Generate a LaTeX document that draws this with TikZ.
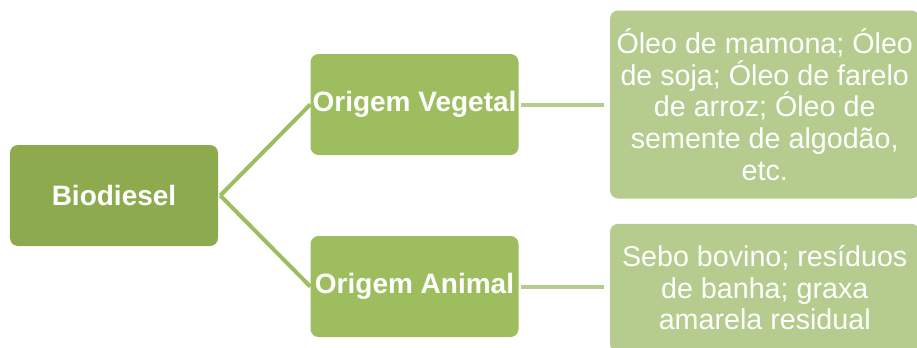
\documentclass[tikz,border=0pt]{standalone}
\usepackage{fontspec}
\setmainfont{Liberation Sans}
\usepackage{xcolor}
\usepackage{tikz}
\usetikzlibrary{positioning}
\definecolor{verdeesc}{HTML}{8EAA4F}
\definecolor{verdemed}{HTML}{9EBD5F}
\definecolor{verdecla}{HTML}{B5CC8E}

\begin{document}
\begin{tikzpicture}[
  caixa/.style={rounded corners=6pt, align=center, text=white, inner sep=0pt,
                minimum width=156pt, minimum height=75.75pt,
                font=\fontsize{21}{24}\selectfont\bfseries},
  lista/.style={caixa, fill=verdecla, minimum width=232pt,
                font=\fontsize{21.5}{23.8}\selectfont},
  liga/.style={line width=3pt}
]
\useasboundingbox (-85.5pt,-113.625pt) rectangle (602.25pt,146.625pt);
\clip (-85.5pt,-113.625pt) rectangle (602.25pt,146.625pt);
\node[caixa, fill=verdeesc] (bio) {Biodiesel};
\node[caixa, fill=verdemed, right=69pt of bio, yshift=68.25pt] (veg) {Origem Vegetal};
\node[caixa, fill=verdemed, right=69pt of bio, yshift=-68.25pt] (ani) {Origem Animal};
\node[lista, minimum height=141pt, right=68.25pt of veg] (oleos)
  {Óleo de mamona; Óleo\\ de soja; Óleo de farelo\\ de arroz; Óleo de\\
   semente de algodão,\\ etc.};
\node[lista, minimum height=96pt, right=68.25pt of ani, yshift=-1pt] (sebo)
  {Sebo bovino; resíduos\\ de banha; graxa\\ amarela residual};
\draw[liga, verdemed] ([xshift=1.5pt]bio.east) -- (veg.west);
\draw[liga, verdemed] ([xshift=1.5pt]bio.east) -- (ani.west);
\draw[liga, verdecla] ([xshift=2pt]veg.east) -- ([xshift=-4pt]oleos.west |- veg.east);
\draw[liga, verdecla] ([xshift=2pt]ani.east) -- ([xshift=-4pt]sebo.west |- ani.east);
\end{tikzpicture}
\end{document}
